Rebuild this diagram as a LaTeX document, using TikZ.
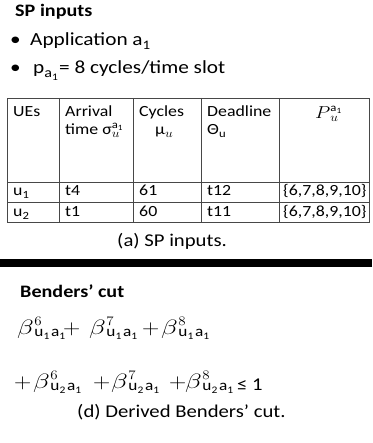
\documentclass[tikz,border=0pt]{standalone}
\usepackage{fontspec}
\usepackage{amsmath}
\usepackage{graphicx}
\setmainfont{Carlito}
\newcommand{\fs}[1]{\fontsize{#1}{#1}\selectfont}
\newcommand{\lowsub}[3]{\raisebox{-#1}{\fs{#2}#3}}
\newcommand{\bterm}[2]{\scalebox{1.15}[1]{$\beta$}\hspace{0.5pt}\makebox[0pt][l]{\raisebox{8.5pt}{\fs{13}\fontfamily{lmr}\selectfont #1}}\raisebox{-2pt}{\fs{15}u\lowsub{3.5pt}{10}{#2}\hspace{1.5pt}a\lowsub{3.5pt}{10}{1}}}
\begin{document}
\begin{tikzpicture}[x=1pt,y=-1pt,
  big/.style={inner sep=0pt, anchor=base west, xscale=1.15, font=\fontsize{18}{21}\selectfont},
  bul/.style={inner sep=0pt, anchor=base west, xscale=1.15, font=\fontsize{18.5}{22}\selectfont},
  cell/.style={inner sep=0pt, anchor=base west, xscale=1.15, font=\fontsize{15.5}{18}\selectfont},
  eq/.style={inner sep=0pt, anchor=base west, xscale=1.15, font=\fontsize{20}{24}\selectfont},
  grid/.style={draw=black!72, line width=0.9pt}]
\useasboundingbox (0,0) rectangle (372,443);
% header text
\node[big, font=\fontsize{17.5}{21}\selectfont\bfseries] (title) at (15,17) {SP inputs};
\node[bul] (b1) at (10,46) {•};
\node[bul] (l1) at (30,46) {Application a\lowsub{4pt}{13}{1}};
\node[bul] (b2) at (10,74) {•};
\node[bul] (l2) at (33,74) {p\lowsub{4pt}{14}{a\lowsub{3pt}{10}{1}}\hspace{1pt}= 8 cycles/time slot};
% table grid
\draw[grid] (7,98) rectangle (369,222);
\draw[grid] (7,182) -- (369,182);
\draw[grid] (7,202) -- (369,202);
\foreach \x in {59,133,201,279} \draw[grid] (\x,98) -- (\x,222);
% table header
\node[cell] (h1) at (13,117) {UEs};
\node[cell] (h2a) at (65,117) {Arrival};
\node[cell] (h2b) at (65,135) {time σ\makebox[0pt][l]{\raisebox{-3pt}{\fs{12}$u$}}\raisebox{6.5pt}{\fs{11}a\lowsub{2pt}{8}{1}}};
\node[cell] (h3a) at (139,117) {Cycles};
\node[cell] (h3b) at (155,135) {μ\raisebox{-3pt}{\fs{12}$u$}};
\node[cell] (h4a) at (207,117) {Deadline};
\node[cell] (h4b) at (207,135) {Θ\lowsub{3pt}{11}{u}};
\node[cell] (h5) at (315,119) {\fs{17}$P$\makebox[0pt][l]{\raisebox{-3pt}{\fs{12}$u$}}\raisebox{7pt}{\fs{11}a\lowsub{2pt}{8}{1}}};
% rows
\node[cell] (r1c1) at (13,196) {u\lowsub{3pt}{11}{1}};
\node[cell] (r1c2) at (65,196) {t4};
\node[cell] (r1c3) at (139,196) {61};
\node[cell] (r1c4) at (207,196) {t12};
\node[cell] (r1c5) at (283,196) {\{6,7,8,9,10\}};
\node[cell] (r2c1) at (13,216) {u\lowsub{3pt}{11}{2}};
\node[cell] (r2c2) at (65,216) {t1};
\node[cell] (r2c3) at (139,216) {60};
\node[cell] (r2c4) at (207,216) {t11};
\node[cell] (r2c5) at (283,216) {\{6,7,8,9,10\}};
% caption a
\node[big] (capa) at (117,246) {(a) SP inputs.};
% bar
\fill[black] (0,259) rectangle (372,267);
% Benders
\node[big, font=\fontsize{17.5}{21}\selectfont\bfseries] (bt) at (20,297) {Benders’ cut};
% line 1
\node[eq] (t11) at (17,334) {\bterm{6}{1}};
\node[eq] (p11) at (63,334) {$+$};
\node[eq] (t12) at (89,334) {\bterm{7}{1}};
\node[eq] (p12) at (142,334) {$+$};
\node[eq] (t13) at (161,334) {\bterm{8}{1}};
% line 2
\node[eq] (p21) at (14,388) {$+$};
\node[eq] (t21) at (33,388) {\bterm{6}{2}};
\node[eq] (p22) at (93,388) {$+$};
\node[eq] (t22) at (111,388) {\bterm{7}{2}};
\node[eq] (p23) at (169,388) {$+$};
\node[eq] (t23) at (185,388) {\bterm{8}{2}};
\node[big] (le) at (237,390) {≤ 1};
\node[big] (capd) at (77,417) {(d) Derived Benders’ cut.};
\end{tikzpicture}
\end{document}
